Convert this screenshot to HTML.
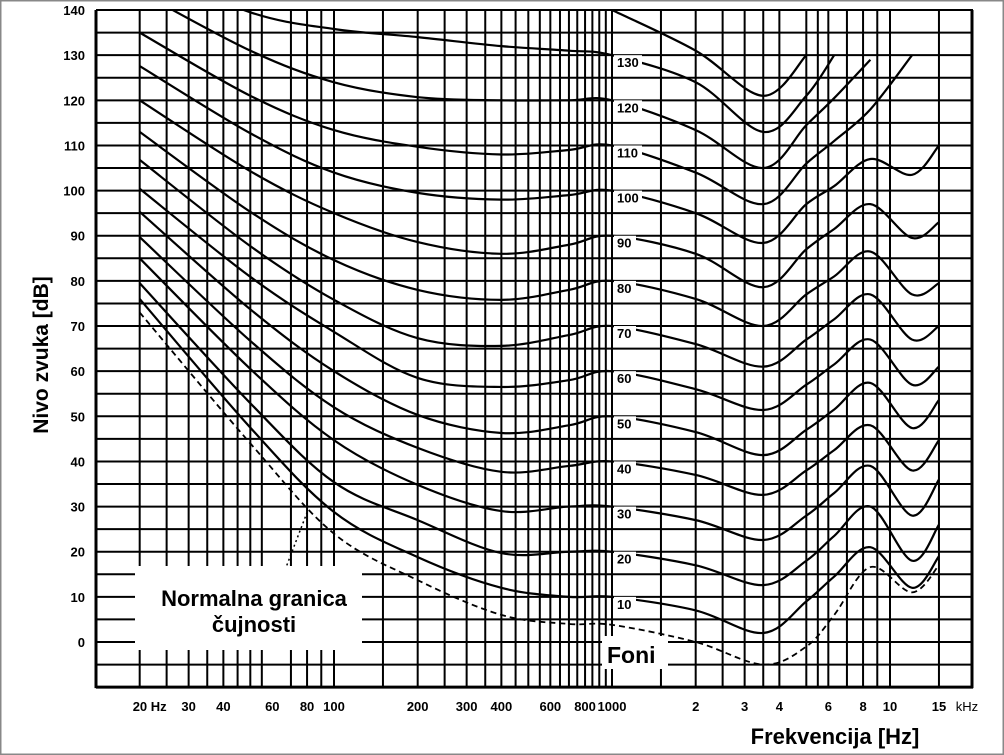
<!DOCTYPE html>
<html><head><meta charset="utf-8"><style>
html,body{margin:0;padding:0;background:#fff}
svg{display:block}
text{font-family:"Liberation Sans",sans-serif}
</style></head><body>
<svg id="chart" width="1004" height="755" viewBox="0 0 1004 755">
<rect x="0.5" y="0.5" width="1003" height="754" fill="#fff" stroke="#888" stroke-width="2"/>
<defs><clipPath id="plotclip"><rect x="96" y="9" width="877" height="680"/></clipPath></defs>
<g id="grid"></g>
<g id="curves" clip-path="url(#plotclip)"></g>
<g id="labels"></g>
<g id="yticks"></g>
<g id="xticks"></g>
<g>
<line x1="285" y1="570" x2="308" y2="510" stroke="#000" stroke-width="1.5" stroke-dasharray="2 3"/>
<rect x="135" y="566" width="227" height="84" fill="#fff"/>
<text x="254" y="606" text-anchor="middle" font-size="22" font-weight="bold">Normalna granica</text>
<text x="254" y="632" text-anchor="middle" font-size="22" font-weight="bold">čujnosti</text>
</g>
<rect x="602" y="636" width="66" height="33" fill="#fff"/>
<text x="607" y="663" font-size="23" font-weight="bold">Foni</text>
<text transform="translate(48,355) rotate(-90)" text-anchor="middle" font-size="21" font-weight="bold">Nivo zvuka [dB]</text>
<text x="835" y="744" text-anchor="middle" font-size="22" font-weight="bold">Frekvencija [Hz]</text>
</svg>
<script>
const freqs = [20, 50, 100, 200, 400, 700, 1000, 2000, 3500, 5000, 6300, 8500, 12000, 15000];
const phons = [140, 130, 120, 110, 100, 90, 80, 70, 60, 50, 40, 30, 20, 10];
const p140 = [null, null, null, null, null, null, 140, 131, 121, 130, null, null, null, null];
const p130 = [150, 139.5, 135.8, 134, 132, 131, 130, 124, 113, 121, 130, null, null, null];
const p120 = [144, 131, 124, 120.7, 120, 120, 120, 113.4, 105, 114.5, 120.5, 129, null, null];
const p110 = [135, 121, 113.4, 109.7, 108, 109, 110, 104, 97, 106, 111, 118, 130, null];
const p100 = [127.6, 112.7, 104, 99.5, 98, 99, 100, 95, 88.4, 97, 101, 107, 103.5, 110];
const p90 = [120, 104.3, 95, 88.6, 86, 88, 90, 86, 78.6, 87, 91.5, 97, 89.5, 93];
const p80 = [113, 95.3, 84.6, 78, 75.8, 78, 80, 76, 70, 77, 81, 86.5, 77, 79.5];
const p70 = [106.8, 87.7, 75.8, 67.3, 65.6, 68, 70, 66, 61, 67, 71.5, 77, 67, 70];
const p60 = [100.4, 80.9, 68.7, 58.5, 56.5, 58, 60, 56, 51.4, 57, 61.5, 67, 57, 61];
const p50 = [95.3, 73.7, 60, 50.3, 46.3, 48, 50, 46.5, 41.4, 47, 51.5, 57.4, 47.4, 53.6];
const p40 = [89.7, 66.7, 52, 43, 37.7, 39, 40, 37, 32.6, 38, 42.5, 48, 38, 44.7];
const p30 = [85, 60.5, 44.7, 34.8, 29, 30, 30, 27, 22.6, 28, 33, 39, 28, 36];
const p20 = [79.5, 52.9, 35.4, 27, 19.7, 20, 20, 17, 12.6, 18, 23.5, 30, 18, 26];
const p10 = [76, 47.5, 28.8, 18.8, 12, 10, 10, 7, 2, 9, 14.5, 21, 12, 19];
const threshold = [73, 44, 24, 13.7, 6, 4, 3.8, 0, -5, -1, 6, 16.6, 11, 17];
const yTickLabels = [140, 130, 120, 110, 100, 90, 80, 70, 60, 50, 40, 30, 20, 10, 0];
const xTickFreqs = [20, 30, 40, 60, 80, 100, 200, 300, 400, 600, 800, 1000, 2000, 3000, 4000, 6000, 8000, 10000, 15000];
const xTickLabels = ["20 Hz", "30", "40", "60", "80", "100", "200", "300", "400", "600", "800", "1000", "2", "3", "4", "6", "8", "10", "15"];
const gridFreqs = [20,25,30,35,40,45,50,55,70,80,90,100,150,200,250,300,350,400,450,500,550,600,650,700,750,800,850,900,950,1000,1500,2000,2500,3000,3500,4000,5000,5500,6000,7000,8000,9000,10000,15000];

const NS = "http://www.w3.org/2000/svg";
function X(f){ return 612 + 278 * (Math.log10(f) - 3); }
function Y(db){ return 642 - 4.514 * db; }
function mk(tag, attrs, parent){ const e = document.createElementNS(NS, tag); for (const k in attrs) e.setAttribute(k, attrs[k]); parent.appendChild(e); return e; }

const grid = document.getElementById("grid");
for (let db = -10; db <= 140; db += 5) {
  const l = mk("line", {x1: 96, x2: 973, y1: Y(db), y2: Y(db), stroke: "#000", "stroke-width": db === -10 ? 3 : 2}, grid);
  
  
}
gridFreqs.forEach(f => {
  const l = mk("line", {x1: X(f), x2: X(f), y1: Y(140), y2: Y(-10), stroke: "#000", "stroke-width": 2}, grid);
  
  
});
[96, 972].forEach(x => {
  const l = mk("line", {x1: x, x2: x, y1: Y(140), y2: Y(-10) + 1, stroke: "#000", "stroke-width": 3}, grid);
  
  
});

function pathFor(vals){
  const pts = [];
  vals.forEach((v, i) => { if (v !== null) pts.push([X(freqs[i]), Y(v)]); });
  if (pts.length < 2) return "";
  let d = "M" + pts[0][0] + "," + pts[0][1];
  for (let i = 0; i < pts.length - 1; i++) {
    const p0 = pts[i - 1] || pts[i], p1 = pts[i], p2 = pts[i + 1], p3 = pts[i + 2] || p2;
    const c1x = p1[0] + (p2[0] - p0[0]) / 6, c1y = p1[1] + (p2[1] - p0[1]) / 6;
    const c2x = p2[0] - (p3[0] - p1[0]) / 6, c2y = p2[1] - (p3[1] - p1[1]) / 6;
    d += " C" + c1x + "," + c1y + " " + c2x + "," + c2y + " " + p2[0] + "," + p2[1];
  }
  return d;
}
const curves = document.getElementById("curves");
const series = [p140, p130, p120, p110, p100, p90, p80, p70, p60, p50, p40, p30, p20, p10];
series.forEach((s, i) => {
  const p = mk("path", {d: pathFor(s), fill: "none", stroke: "#000", "stroke-width": 2.2}, curves);
  
  
});
const th = mk("path", {d: pathFor(threshold), fill: "none", stroke: "#000", "stroke-width": 1.8, "stroke-dasharray": "6 4"}, curves);



const labels = document.getElementById("labels");
phons.forEach(p => {
  if (p > 130) return;
  const y = Y(p) + 10;
  const r = mk("rect", {x: 614, y: y - 10, width: p >= 100 ? 28 : 22, height: 14, fill: "#fff"}, labels);
  
  
  const t = mk("text", {x: 617, y: y + 2, "font-size": 13, "font-weight": "bold"}, labels);
  t.textContent = p;
  
  
});

const yt = document.getElementById("yticks");
yTickLabels.forEach(v => {
  const t = mk("text", {x: 85, y: Y(v) + 5, "text-anchor": "end", "font-size": 13, "font-weight": "bold"}, yt);
  t.textContent = v;
  
  
});
const xt = document.getElementById("xticks");
xTickFreqs.forEach((f, i) => {
  const t = mk("text", {x: X(f) + (i === 0 ? 10 : 0), y: 711, "text-anchor": "middle", "font-size": 13, "font-weight": "bold"}, xt);
  t.textContent = xTickLabels[i];
  
  
});
const kt = mk("text", {x: 967, y: 711, "text-anchor": "middle", "font-size": 13}, xt);
kt.textContent = "kHz";


</script>
</body></html>
